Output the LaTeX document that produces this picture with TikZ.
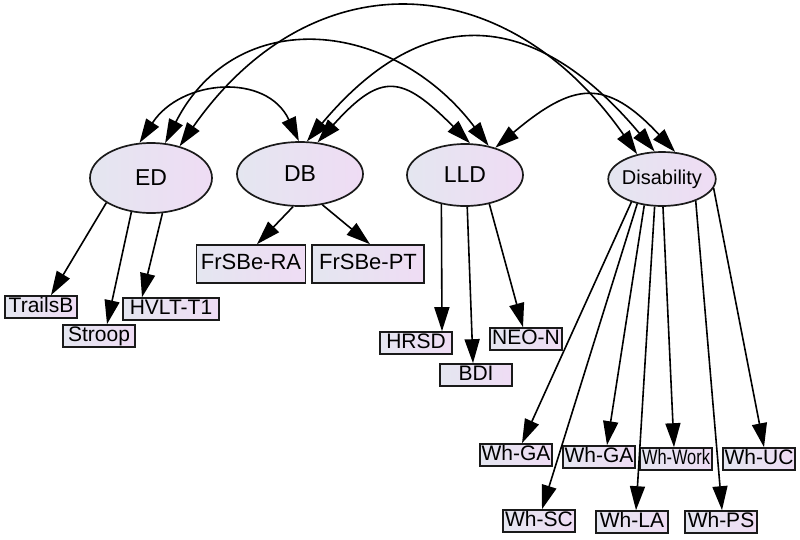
\documentclass[tikz,border=0pt]{standalone}
\usepackage{fontspec}
\setmainfont{Liberation Sans}
\usepackage{tikz}
\usetikzlibrary{arrows.meta,shapes.geometric}
\definecolor{shadel}{HTML}{E4E6F0}
\definecolor{shader}{HTML}{EFDCF4}
\definecolor{rim}{HTML}{1A1A1A}

\begin{document}
\begin{tikzpicture}[
    x=1pt, y=1pt,
    latent/.style={ellipse, draw=rim, line width=1.7pt, left color=shadel, right color=shader, inner sep=0pt, font=\fontsize{23}{25}\selectfont},
    measure/.style={rectangle, draw=rim, line width=1.6pt, left color=shadel, right color=shader, inner xsep=1.5pt, inner ysep=0pt, minimum width=72pt, minimum height=22pt, text height=15pt, text depth=4pt, font=\fontsize{21}{23}\selectfont},
    wide measure/.style={measure, minimum width=109pt, minimum height=38pt, font=\fontsize{22}{24}\selectfont},
    load/.style={draw, line width=1.6pt, -{Triangle[length=24pt,width=15pt]}},
    covar/.style={draw, line width=1.6pt, {Triangle[length=24pt,width=15pt]}-{Triangle[length=24pt,width=15pt]}}
  ]
  \useasboundingbox (0,0) rectangle (800,-539);

  \node[latent, minimum width=122pt, minimum height=70pt] (ed) at (151,-178) {ED};
  \node[latent, minimum width=126pt, minimum height=64pt] (db) at (300,-174) {DB};
  \node[latent, minimum width=116pt, minimum height=62pt] (lld) at (465,-175) {LLD};
  \node[latent, minimum width=106pt, minimum height=54pt, inner xsep=-2pt, font=\fontsize{20}{22}\selectfont] (dis) at (662,-179) {Disability};

  \node[measure] (trailsb) at (41,-307) {TrailsB};
  \node[measure] (stroop) at (99,-336) {Stroop};
  \node[measure, minimum width=96pt] (hvlt) at (171,-309) {HVLT-T1};
  \node[wide measure] (frsbera) at (251,-264) {FrSBe-RA};
  \node[wide measure, minimum width=112pt] (frsbept) at (368,-264) {FrSBe-PT};
  \node[measure] (hrsd) at (416,-343) {HRSD};
  \node[measure] (bdi) at (476,-375) {BDI};
  \node[measure] (neon) at (526,-339) {NEO-N};
  \node[measure] (whga) at (516,-455) {Wh-GA};
  \node[measure] (whgb) at (599,-457) {Wh-GA};
  \node[measure] (whwork) at (676,-459) {\scalebox{0.78}[1]{Wh-Work}};
  \node[measure] (whuc) at (759,-459) {Wh-UC};
  \node[measure] (whsc) at (539,-521) {Wh-SC};
  \node[measure] (whla) at (632,-522) {Wh-LA};
  \node[measure] (whps) at (721,-522) {Wh-PS};

  \draw[load] (ed.-151) -- ([xshift=10pt]trailsb.north);
  \draw[load] (ed.-120) -- ([xshift=8pt]stroop.north);
  \draw[load] (ed.-72) -- ([xshift=-29pt]hvlt.north);
  \draw[load] (db.-102) -- ([xshift=6pt]frsbera.north);
  \draw[load] (db.-54) -- ([xshift=2pt]frsbept.north);
  \draw[load] (lld.-129) -- ([xshift=26pt]hrsd.north);
  \draw[load] (lld.-86) -- ([xshift=-3pt]bdi.north);
  \draw[load] (lld.-50) -- ([xshift=-3pt]neon.north);
  \draw[load] (dis.-143) -- ([xshift=6pt]whga.north);
  \draw[load] (dis.-135) -- ([xshift=3pt]whsc.north);
  \draw[load] (dis.-124) -- ([xshift=8pt]whgb.north);
  \draw[load] (dis.-105) -- ([xshift=4pt]whla.north);
  \draw[load] (dis.-88) -- ([xshift=-2pt]whwork.north);
  \draw[load] (dis.-33) -- ([xshift=1pt]whps.north);
  \draw[load] (dis.-10) -- ([xshift=5pt]whuc.north);

  \draw[covar] (ed.108) to[out=57, in=115, distance=76pt] (db.92);
  \draw[covar] (ed.68) to[out=63, in=127, distance=158pt] (lld.51);
  \draw[covar] (ed.48) to[out=55, in=125, distance=230pt] (dis.135);
  \draw[covar] (db.78) to[out=50, in=130, distance=185pt] (dis.105);
  \draw[covar] (db.61) to[out=48, in=135, distance=96pt] (lld.81);
  \draw[covar] (lld.42) to[out=40, in=133, distance=102pt] (dis.64);
\end{tikzpicture}
\end{document}
